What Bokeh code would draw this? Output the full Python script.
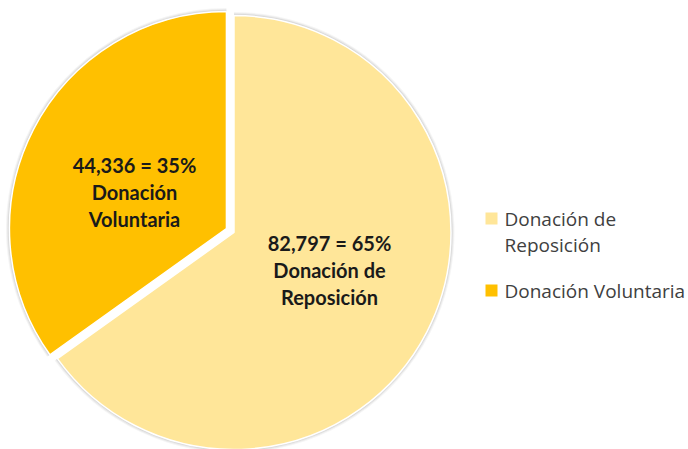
import math
from bokeh.plotting import figure
from bokeh.models import ColumnDataSource
from bokeh.core.properties import value
from bokeh.embed import file_html
from bokeh.resources import INLINE

# ---- data ----
categories = ["Donación de Reposición", "Donación Voluntaria"]
values = [82797, 44336]
percents = ["65%", "35%"]
value_labels = ["82,797", "44,336"]
legend_lines = [["Donación de", "Reposición"], ["Donación Voluntaria"]]
label_lines = [["Donación de", "Reposición"], ["Donación", "Voluntaria"]]
colors = ["#FFE699", "#FFC000"]

W, H = 688, 449
p = figure(width=W, height=H, x_range=(0, W), y_range=(0, H),
           output_backend="svg", toolbar_location=None, min_border=0)
p.axis.visible = False
p.grid.visible = False
p.outline_line_color = None
p.background_fill_color = "white"

def Y(sy):  # image y -> data y
    return H - sy

def X(sx):
    return sx

cx, cy = X(233.5), Y(232)
R = 217
total = sum(values)

# slice angles: start at 12 o'clock, going clockwise
starts, ends = [], []
acc = 0.0
for i, v in enumerate(values):
    a0 = math.pi / 2 - 2 * math.pi * acc / total
    acc += v
    a1 = math.pi / 2 - 2 * math.pi * acc / total
    starts.append(a1)
    ends.append(a0)
explode = [0, 8.5]
xs, ys = [], []
for i in range(len(values)):
    mid = (starts[i] + ends[i]) / 2
    xs.append(cx + explode[i] * math.cos(mid))
    ys.append(cy + explode[i] * math.sin(mid))

src = ColumnDataSource(dict(x=xs, y=ys, start=starts, end=ends, color=colors))
# soft shadow
for k, a in [(3.5, 0.04), (2.5, 0.05), (1.5, 0.07)]:
    p.wedge(x="x", y="y", radius=R + k, start_angle="start", end_angle="end",
            source=src, fill_color="#000000", fill_alpha=a, line_color=None)
p.wedge(x="x", y="y", radius=R, start_angle="start", end_angle="end",
        source=src, fill_color="color", line_color="white", line_width=1.5)

# slice labels
label_pos = [(329, 242.5), (134, 164.5)]
lx, ly, lt = [], [], []
for i in range(len(values)):
    lines = [f"{value_labels[i]} = {percents[i]}"] + label_lines[i]
    for j, t in enumerate(lines):
        lx.append(X(label_pos[i][0]))
        ly.append(Y(label_pos[i][1] + 27 * j))
        lt.append(t)
p.text(x=lx, y=ly, text=lt, text_font=value("Lato"), text_font_style="bold",
       text_font_size="20px", text_color="#1a1a1a", text_align="center",
       text_baseline="middle")

# legend
leg_y = [218, 290]
sq_x, sq_y, sq_c = [], [], []
tx, ty, tt = [], [], []
for i in range(len(categories)):
    sq_x.append(X(491))
    sq_y.append(Y(leg_y[i]))
    sq_c.append(colors[i])
    for j, t in enumerate(legend_lines[i]):
        tx.append(X(504))
        ty.append(Y(leg_y[i] + 26 * j))
        tt.append(t)
p.rect(x=sq_x, y=sq_y, width=12, height=12, fill_color=sq_c, line_color=None)
p.text(x=tx, y=ty, text=tt, text_font=value("Open Sans"), text_font_size="19px",
       text_color="#404040", text_align="left", text_baseline="middle")

open("out.html", "w").write(file_html(p, INLINE))
